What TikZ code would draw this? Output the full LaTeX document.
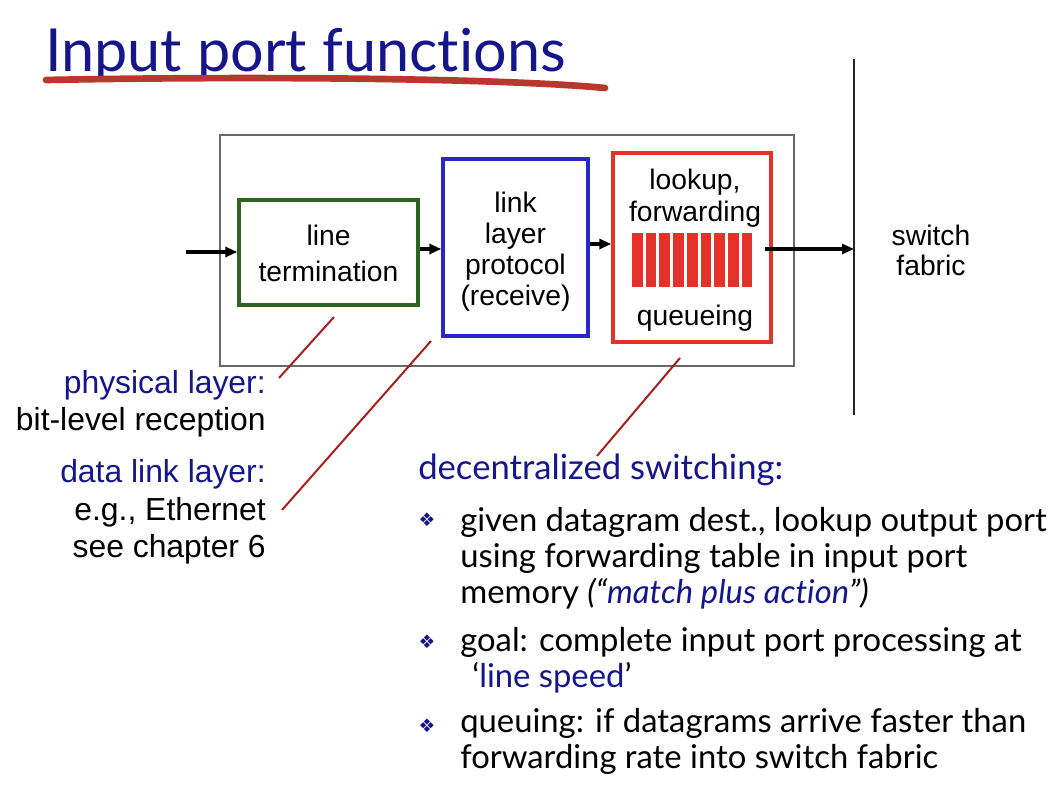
\documentclass[tikz,border=0pt]{standalone}
\usepackage{fontspec}
\setmainfont{Liberation Sans}
\newfontfamily\gill[Ligatures={NoCommon,NoDiscretionary}]{Lato}
\newfontfamily\dejavu{DejaVu Sans}
\usetikzlibrary{arrows.meta,fit}
\definecolor{navy}{RGB}{22,22,140}
\definecolor{ulred}{RGB}{185,55,45}
\definecolor{lnred}{RGB}{170,30,30}
\definecolor{boxgreen}{RGB}{45,100,30}
\definecolor{boxblue}{RGB}{40,40,200}
\definecolor{boxred}{RGB}{228,50,40}
\definecolor{boxgray}{RGB}{105,105,105}
\tikzset{
  frame/.style={inner sep=0pt, draw, line width=2.6pt},
  boxtxt/.style={anchor=base, inner sep=0pt, font=\fontsize{21.2}{25}\selectfont},
  lbl/.style={anchor=base east, inner sep=0pt, font=\fontsize{23.9}{28}\selectfont},
  lblblue/.style={lbl, text=navy},
  btxt/.style={anchor=base west, inner sep=0pt, font=\gill\fontsize{24.6}{30}\selectfont},
  bul/.style={inner sep=0pt, text=navy, font=\dejavu\fontsize{14}{16}\selectfont},
  arr/.style={line width=2.3pt, -{Triangle[length=9pt,width=7.5pt]}},
  pointer/.style={draw=lnred, line width=1.5pt},
  bar/.style={fill=boxred, draw=none}
}
\begin{document}
\begin{tikzpicture}[x=0.75pt,y=-0.75pt]
\useasboundingbox (0,0) rectangle (1052,792);
\fill[white] (0,0) rectangle (1052,792);

% title
\node[anchor=base west, inner sep=0pt, text=navy, font=\gill\fontsize{44.5}{50}\selectfont] (title) at (45,72) {Input port functions};
\coordinate (u1) at (46,80);
\coordinate (u2) at (605,88);
\draw[ulred, line width=5pt, line cap=round] (u1) .. controls (250,76) and (500,78) .. (u2);

% boxes
\node[fit={(220,135) (794,366)}, frame, draw=boxgray, line width=1.8pt] (outer) {};
\node[fit={(239,200) (418,305)}, frame, draw=boxgreen] (green) {};
\node[fit={(443,159) (588,336)}, frame, draw=boxblue] (blue) {};
\node[fit={(613,153) (771,342)}, frame, draw=boxred] (red) {};

% box texts
\node[boxtxt] (t1) at (328.5,245) {line};
\node[boxtxt] (t2) at (328.5,281) {termination};
\node[boxtxt] (t3) at (515.5,212) {link};
\node[boxtxt] (t4) at (515.5,243) {layer};
\node[boxtxt] (t5) at (515.5,274) {protocol};
\node[boxtxt] (t6) at (515.5,305) {(receive)};
\node[boxtxt] (t7) at (695,189) {lookup,};
\node[boxtxt] (t8) at (695,221) {forwarding};
\node[boxtxt] (t9) at (695,325) {queueing};

% queue bars
\foreach \i in {0,...,8} {
  \fill[bar] ({632+13.7*\i},233) rectangle ({642.7+13.7*\i},287);
}

% fabric line
\coordinate (ft) at (854,59);
\coordinate (fb) at (854,415);
\draw[line width=1.2pt, black!85] (ft) -- (fb);
\node[boxtxt] (sw1) at (931,245) {switch};
\node[boxtxt] (sw2) at (931,275) {fabric};

% arrows
\coordinate (a0) at (186,252);
\coordinate (a1) at (0,249);
\coordinate (a2) at (0,244);
\coordinate (a3) at (0,249);
\draw[arr] (a0) -- (green.west |- a0);
\draw[arr] (green.east |- a1) -- (blue.west |- a1);
\draw[arr] (blue.east |- a2) -- (red.west |- a2);
\draw[arr] ([xshift=-6pt]red.east |- a3) -- (ft |- a3);

% left labels
\node[lblblue] (l1) at (266,393) {physical layer:};
\node[lbl] (l2) at (266,430) {bit-level reception};
\node[lblblue] (l3) at (266,482) {data link layer:};
\node[lbl] (l4) at (266,520) {e.g., Ethernet};
\node[lbl] (l5) at (266,557) {see chapter 6};

% pointer lines
\coordinate (p1a) at (334,317);
\coordinate (p1b) at (279,378);
\coordinate (p2a) at (431,341);
\coordinate (p2b) at (282,510);
\coordinate (p3a) at (680,358);
\coordinate (p3b) at (597,456);
\draw[pointer] (p1a) -- (p1b);
\draw[pointer] (p2a) -- (p2b);
\draw[pointer] (p3a) -- (p3b);

% right text
\node[btxt, text=navy, font=\gill\fontsize{26}{30}\selectfont] (head) at (418,479) {decentralized switching:};
\node[bul] (d1) at (427,520) {❖};
\node[bul] (d2) at (427,642) {❖};
\node[bul] (d3) at (427,726) {❖};
\node[btxt] (b1) at (460,531) {given datagram dest., lookup output port};
\node[btxt] (b2) at (460,567) {using forwarding table in input port};
\node[btxt] (b3) at (460,603) {memory \textit{(“\textcolor{navy}{match plus action}”)}};
\node[btxt] (b4) at (460,651) {goal: complete input port processing at};
\node[btxt] (b5) at (472,687) {‘\textcolor{navy}{line speed}’};
\node[btxt] (b6) at (460,732) {queuing: if datagrams arrive faster than};
\node[btxt] (b7) at (460,768) {forwarding rate into switch fabric};
\end{tikzpicture}
\end{document}
